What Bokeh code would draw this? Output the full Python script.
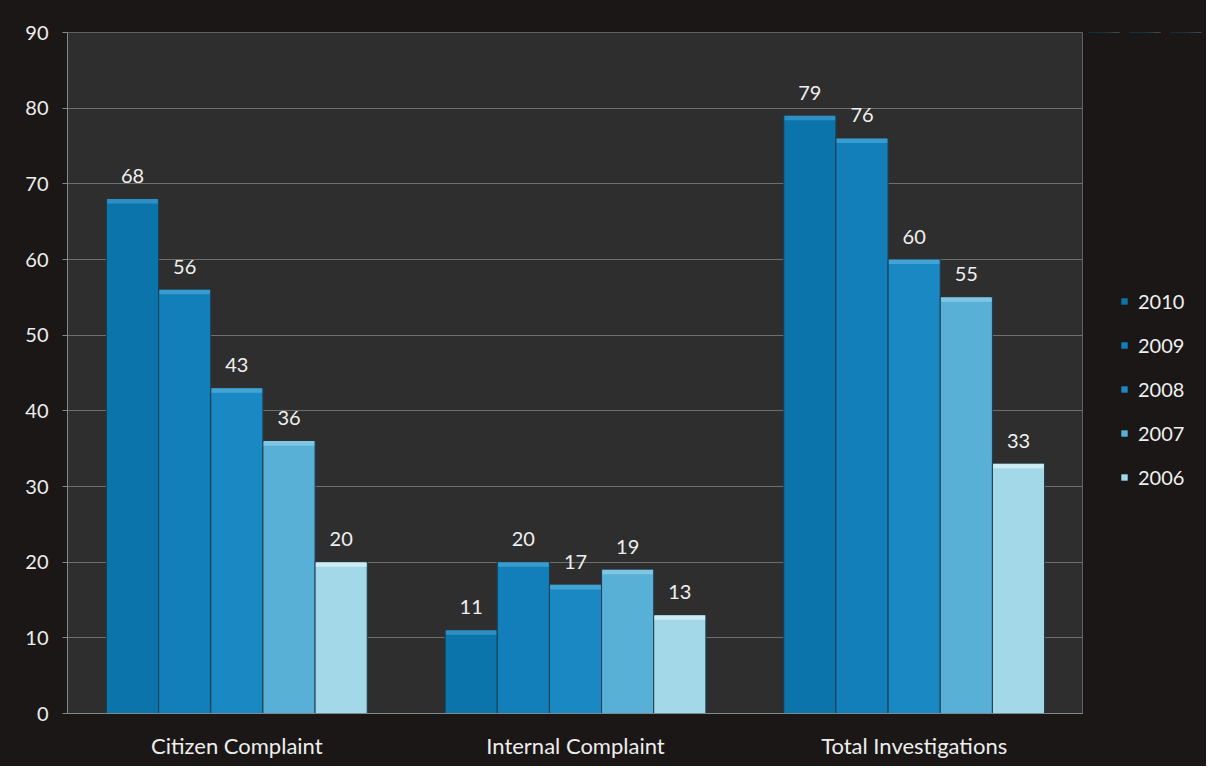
from bokeh.plotting import figure
from bokeh.layouts import row
from bokeh.models import (ColumnDataSource, FactorRange, Range1d, Legend, LegendItem,
                          SingleIntervalTicker, Grid)
from bokeh.transform import dodge
from bokeh.core.properties import value
from bokeh.embed import file_html
from bokeh.resources import INLINE

categories = ["Citizen Complaint", "Internal Complaint", "Total Investigations"]
years = ["2010", "2009", "2008", "2007", "2006"]
v2010 = [68, 11, 79]
v2009 = [56, 20, 76]
v2008 = [43, 17, 60]
v2007 = [36, 19, 55]
v2006 = [20, 13, 33]
series = [v2010, v2009, v2008, v2007, v2006]
colors = ["#0b74ab", "#127fba", "#1a89c3", "#58b0d6", "#a3d8e8"]
bevel = ["#2f8fc2", "#3a9bcd", "#43a4d4", "#80c6e2", "#cdecf4"]

FONT = "Lato"
BG_OUT = "#1b1717"
AX = "#7f8b8b"
W, H = 1206, 766
L, R, T, B = 67, 1083, 32, 713

p = figure(x_range=FactorRange(*categories), y_range=Range1d(0, 90),
           width=R, height=H, output_backend="svg", toolbar_location=None,
           min_border_left=L, min_border_right=0, min_border_top=T, min_border_bottom=H - B,
           styles={"background-color": BG_OUT})
p.x_range.range_padding = 0
p.background_fill_color = "#2f2e2e"
p.border_fill_color = BG_OUT
p.outline_line_color = "#5f6363"

data = dict(cat=categories)
for y, s in zip(years, series):
    data["y" + y] = s
    data["b" + y] = [v - 0.6 for v in s]
    data["t" + y] = [str(v) for v in s]
src = ColumnDataSource(data)

bw = 0.154
offsets = [-2 * bw, -bw, 0, bw, 2 * bw]
for y, c, bc, off in zip(years, colors, bevel, offsets):
    xs = dodge("cat", off, range=p.x_range)
    p.vbar(x=xs, top="y" + y, width=bw, source=src,
           fill_color=c, line_color="#1d3d50", line_width=1)
    p.vbar(x=xs, top="y" + y, bottom="b" + y, width=bw * 0.97, source=src,
           fill_color=bc, line_color=None)
    p.text(x=xs, y="y" + y, text="t" + y, source=src,
           text_align="center", text_baseline="bottom", y_offset=-16,
           text_font=value(FONT), text_font_size="20px", text_color="#f0f0f0")

p.yaxis.ticker = SingleIntervalTicker(interval=10)
p.ygrid.grid_line_color = "#6e6e6e"
p.ygrid.grid_line_width = 1
p.xgrid.grid_line_color = None

for ax in (p.xaxis[0], p.yaxis[0]):
    ax.major_label_text_font = FONT
    ax.major_label_text_color = "#eeeeee"
    ax.axis_line_color = AX
    ax.minor_tick_line_color = None

p.yaxis.major_label_text_font_size = "20px"
p.xaxis.major_label_text_font_size = "22px"
p.yaxis.major_tick_line_color = AX
p.yaxis.major_tick_out = 5
p.yaxis.major_tick_in = 0
p.yaxis.major_label_standoff = 14
p.xaxis.major_tick_line_color = None
p.xaxis.major_label_standoff = 12

# legend panel on the right (its bars lie outside its visible range; only the legend shows)
q = figure(x_range=FactorRange(*categories), y_range=Range1d(-20, -10),
           width=W - R, height=H, output_backend="svg", toolbar_location=None,
           x_axis_location=None, y_axis_location=None,
           min_border_left=0, min_border_right=0, min_border_top=0, min_border_bottom=0,
           styles={"background-color": BG_OUT})
q.x_range.range_padding = 0
q.background_fill_color = BG_OUT
q.border_fill_color = BG_OUT
q.outline_line_color = None
for g in list(q.center) + list(q.renderers):
    if isinstance(g, Grid):
        g.visible = False
        g.grid_line_color = None
items = []
for y, c, off in zip(years, colors, offsets):
    r = q.vbar(x=dodge("cat", off, range=q.x_range), top="y" + y, width=bw, source=src,
               fill_color=c, line_color=None)
    items.append(LegendItem(label=y, renderers=[r]))
legend = Legend(items=items, location=(37, 224), orientation="vertical",
                glyph_width=8, glyph_height=8, label_height=20, spacing=20,
                label_text_font=FONT, label_text_font_size="20px", label_text_color="#f0f0f0",
                background_fill_alpha=0, border_line_alpha=0, padding=0, margin=0,
                label_standoff=10)
q.add_layout(legend)

layout = row(p, q, styles={"background-color": BG_OUT})
open("out.html", "w").write(file_html(layout, INLINE))
